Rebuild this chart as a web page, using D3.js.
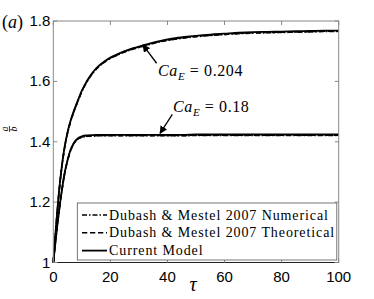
<!DOCTYPE html>
<html>
<head>
<script src="https://cdn.jsdelivr.net/npm/d3@7"></script>
<style>
body { margin: 0; background: #fff; }
text { fill: #000; }
.tick-label { font-family: "Liberation Sans", Arial, sans-serif; font-size: 15px; }
.serif { font-family: "Liberation Serif", "Times New Roman", serif; }
</style>
</head>
<body>
<svg id="chart" width="374" height="299"></svg>
<script>
// time grid shared by all curves
var tau = [0, 1, 2, 3, 4, 5, 6, 7, 8, 9, 10, 12, 14, 16, 18, 20, 22, 25, 28, 31, 34,
           38, 42, 46, 50, 55, 60, 65, 70, 75, 80, 85, 90, 95, 100];

// Ca_E = 0.204
var modelHigh = [1.000, 1.125, 1.235, 1.320, 1.385, 1.432, 1.468, 1.497, 1.522, 1.546, 1.569,
                 1.605, 1.632, 1.652, 1.667, 1.679, 1.688, 1.700, 1.710, 1.718, 1.726,
                 1.735, 1.742, 1.747, 1.751, 1.755, 1.758, 1.761, 1.763, 1.764, 1.765, 1.766, 1.767, 1.768, 1.768];
var numHigh   = [1.000, 1.123, 1.232, 1.317, 1.382, 1.429, 1.465, 1.494, 1.519, 1.543, 1.566,
                 1.602, 1.629, 1.649, 1.664, 1.676, 1.685, 1.697, 1.707, 1.715, 1.723,
                 1.732, 1.739, 1.744, 1.748, 1.752, 1.755, 1.758, 1.760, 1.761, 1.762, 1.763, 1.764, 1.765, 1.765];
var theoHigh  = [1.000, 1.124, 1.233, 1.318, 1.383, 1.430, 1.466, 1.495, 1.520, 1.544, 1.567,
                 1.603, 1.630, 1.650, 1.665, 1.677, 1.686, 1.698, 1.708, 1.716, 1.724,
                 1.733, 1.740, 1.745, 1.749, 1.753, 1.756, 1.759, 1.761, 1.762, 1.763, 1.764, 1.765, 1.766, 1.766];

// Ca_E = 0.18
var modelLow = [1.000, 1.090, 1.170, 1.240, 1.298, 1.340, 1.372, 1.393, 1.406, 1.414, 1.418,
                1.421, 1.422, 1.423, 1.423, 1.423, 1.423, 1.423, 1.423, 1.423, 1.423,
                1.423, 1.423, 1.423, 1.424, 1.424, 1.424, 1.424, 1.424, 1.424, 1.424, 1.424, 1.424, 1.424, 1.424];
var numLow   = [1.000, 1.088, 1.168, 1.237, 1.295, 1.337, 1.369, 1.390, 1.403, 1.411, 1.415,
                1.418, 1.419, 1.420, 1.420, 1.420, 1.420, 1.420, 1.420, 1.420, 1.420,
                1.420, 1.420, 1.420, 1.421, 1.421, 1.421, 1.421, 1.421, 1.421, 1.421, 1.421, 1.421, 1.421, 1.421];
var theoLow  = [1.000, 1.089, 1.169, 1.238, 1.296, 1.338, 1.370, 1.391, 1.404, 1.412, 1.416,
                1.419, 1.420, 1.421, 1.421, 1.421, 1.421, 1.421, 1.421, 1.421, 1.421,
                1.421, 1.421, 1.421, 1.422, 1.422, 1.422, 1.422, 1.422, 1.422, 1.422, 1.422, 1.422, 1.422, 1.422];

var xTicks = [0, 20, 40, 60, 80, 100];
var yTicks = [1, 1.2, 1.4, 1.6, 1.8];
var legendNames = ["Dubash & Mestel 2007 Numerical", "Dubash & Mestel 2007 Theoretical", "Current Model"];

var svg = d3.select("#chart");
var mLeft = 53.3, mRight = 338.7, mTop = 21, mBottom = 262.5;

var x = d3.scaleLinear().domain([0, 100]).range([mLeft, mRight]);
var y = d3.scaleLinear().domain([1, 1.8]).range([mBottom, mTop]);

var styles = [
  {dash: "5,2,1.5,2", width: 1.6},
  {dash: "5.3,2.7", width: 1.6},
  {dash: null, width: 1.8}
];

var line = d3.line()
    .x(function(d) { return x(d[0]); })
    .y(function(d) { return y(d[1]); })
    .curve(d3.curveMonotoneX);

function pairs(vals) { return tau.map(function(t, i) { return [t, vals[i]]; }); }

var series = [
  {vals: numHigh, s: 0}, {vals: numLow, s: 0},
  {vals: theoHigh, s: 1}, {vals: theoLow, s: 1},
  {vals: modelHigh, s: 2}, {vals: modelLow, s: 2}
];

var plot = svg.append("g");
plot.selectAll("path.curve")
  .data(series)
  .enter().append("path")
    .attr("class", "curve")
    .attr("d", function(d) { return line(pairs(d.vals)); })
    .attr("fill", "none")
    .attr("stroke", "#000")
    .attr("stroke-width", function(d) { return styles[d.s].width; })
    .attr("stroke-dasharray", function(d) { return styles[d.s].dash; });

// axes box
var axisColor = "#888";
svg.append("rect")
    .attr("x", mLeft).attr("y", mTop)
    .attr("width", mRight - mLeft).attr("height", mBottom - mTop)
    .attr("fill", "none").attr("stroke", axisColor).attr("stroke-width", 1);
svg.append("line")
    .attr("x1", mLeft).attr("x2", mRight).attr("y1", mBottom).attr("y2", mBottom)
    .attr("stroke", "#222").attr("stroke-width", 1.2);

// inward ticks
var tl = 4;
xTicks.forEach(function(t) {
  svg.append("line").attr("x1", x(t)).attr("x2", x(t)).attr("y1", mBottom).attr("y2", mBottom - tl)
     .attr("stroke", axisColor);
  svg.append("line").attr("x1", x(t)).attr("x2", x(t)).attr("y1", mTop).attr("y2", mTop + tl)
     .attr("stroke", axisColor);
  svg.append("text").attr("class", "tick-label")
     .attr("x", x(t)).attr("y", mBottom + 19)
     .attr("text-anchor", "middle").text(t);
});
yTicks.forEach(function(t) {
  svg.append("line").attr("x1", mLeft).attr("x2", mLeft + tl).attr("y1", y(t)).attr("y2", y(t))
     .attr("stroke", axisColor);
  svg.append("line").attr("x1", mRight).attr("x2", mRight - tl).attr("y1", y(t)).attr("y2", y(t))
     .attr("stroke", axisColor);
  svg.append("text").attr("class", "tick-label")
     .attr("x", mLeft - 3).attr("y", y(t) + 5)
     .attr("text-anchor", "end").text(d3.format("")(t));
});

// panel label
svg.append("text").attr("class", "serif")
   .attr("x", 2).attr("y", 28).style("font-size", "18px")
   .html('(<tspan font-style="italic">a</tspan>)');

// x label
svg.append("text").attr("class", "serif")
   .attr("x", 193).attr("y", 291).attr("text-anchor", "middle")
   .style("font-size", "20px").style("font-style", "italic").text("τ");

// y label a/b as a rotated fraction
var yl = svg.append("g").attr("transform", "translate(9.5,129) rotate(-90)");
yl.append("text").attr("class", "serif").attr("x", 0).attr("y", -1.5)
  .attr("text-anchor", "middle").style("font-size", "10px").style("font-style", "italic").text("a");
yl.append("line").attr("x1", -3).attr("x2", 3).attr("y1", 0).attr("y2", 0)
  .attr("stroke", "#000").attr("stroke-width", 0.7);
yl.append("text").attr("class", "serif").attr("x", 0).attr("y", 7)
  .attr("text-anchor", "middle").style("font-size", "10px").style("font-style", "italic").text("b");

// annotations
function caLabel(px, py, val) {
  var t = svg.append("text").attr("class", "serif").attr("x", px).attr("y", py)
     .style("font-size", "16px").style("letter-spacing", "0.6px");
  t.append("tspan").style("font-style", "italic").text("Ca");
  t.append("tspan").attr("dy", 3.5).style("font-size", "11px").style("font-style", "italic").text("E");
  t.append("tspan").attr("dy", -3.5).text(" = " + val);
}
caLabel(158, 76, "0.204");
caLabel(173, 112, "0.18");

svg.append("defs").append("marker")
   .attr("id", "arr").attr("viewBox", "0 0 10 10").attr("refX", 9).attr("refY", 5)
   .attr("markerWidth", 6).attr("markerHeight", 6).attr("orient", "auto-start-reverse")
   .append("path").attr("d", "M0,0 L10,5 L0,10 z").attr("fill", "#000");

function arrow(t0, v0, t1, v1) {
  svg.append("line")
     .attr("x1", x(t0)).attr("y1", y(v0)).attr("x2", x(t1)).attr("y2", y(v1))
     .attr("stroke", "#000").attr("stroke-width", 1.3).attr("marker-end", "url(#arr)");
}
// arrow tails in data units, heads on the curves
arrow(36.2, 1.66, 31.4, 1.721);
arrow(41.7, 1.491, 37.4, 1.428);

// legend
var lg = svg.append("g");
lg.append("rect").attr("x", 77.3).attr("y", 203).attr("width", 259.5).attr("height", 57)
  .attr("fill", "#fff").attr("stroke", "#555").attr("stroke-width", 0.8);
legendNames.forEach(function(name, i) {
  var yy = 215 + i * 17.8;
  lg.append("line").attr("x1", 82).attr("x2", 107).attr("y1", yy).attr("y2", yy)
    .attr("stroke", "#000").attr("stroke-width", styles[i].width)
    .attr("stroke-dasharray", styles[i].dash);
  lg.append("text").attr("class", "serif").attr("x", 109).attr("y", yy + 4.5)
    .style("font-size", "14px").style("letter-spacing", "0.9px").text(name);
});
</script>
</body>
</html>
